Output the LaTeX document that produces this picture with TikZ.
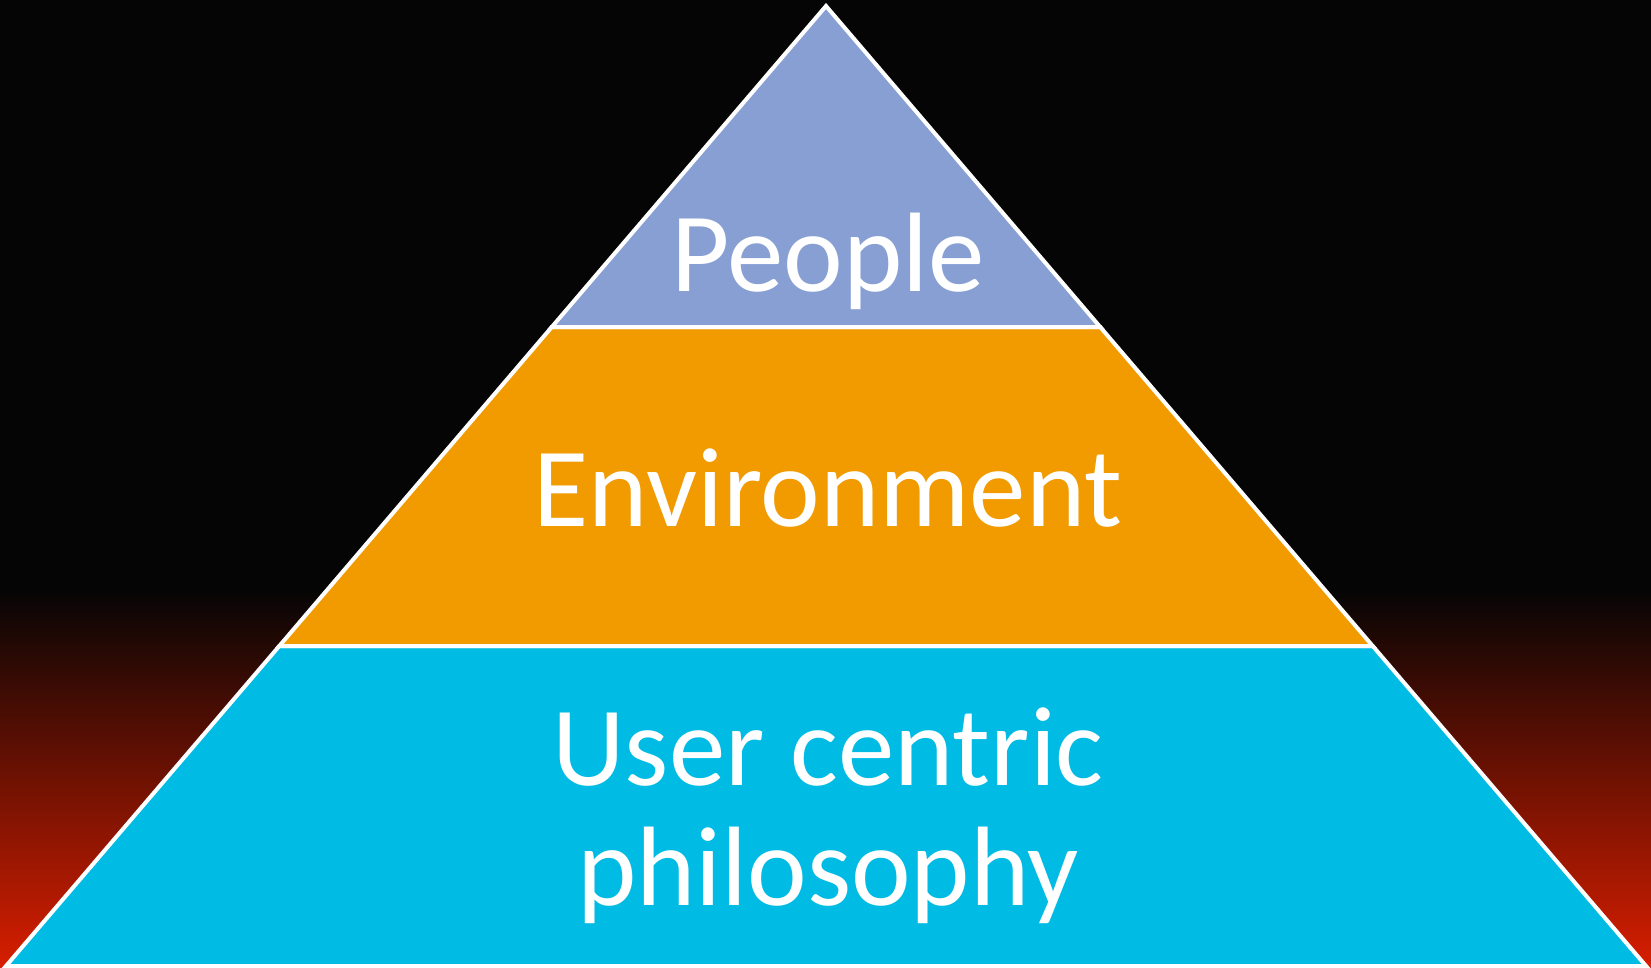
\documentclass[tikz,border=0pt]{standalone}
\usepackage{fontspec}
\setmainfont{Carlito}
\definecolor{toplvl}{HTML}{889FD4}
\definecolor{midlvl}{HTML}{F19B00}
\definecolor{botlvl}{HTML}{00BBE3}
\definecolor{bgred}{HTML}{D81E00}
\definecolor{bgdark}{HTML}{050505}
\begin{document}
\begin{tikzpicture}[x=1pt,y=-1pt,
  level/.style={draw=white,line width=4pt,line join=miter},
  lbl/.style={text=white,anchor=base,inner sep=0pt,font=\fontsize{113}{120}\selectfont,align=center}]
\useasboundingbox (0,0) rectangle (1651,968);
\fill[bgdark] (0,0) rectangle (1651,592);
\shade[top color=bgdark,bottom color=bgred] (0,590) rectangle (1651,968);
% pyramid geometry: apex (826,6), base y=966, half-width 820
\coordinate (apex) at (826,6);
\coordinate (l1) at (551.8,327);
\coordinate (r1) at (1100.2,327);
\coordinate (l2) at (279.3,646);
\coordinate (r2) at (1372.7,646);
\coordinate (l3) at (6,966);
\coordinate (r3) at (1646,966);
\draw[level,fill=botlvl] (l2) -- (r2) -- (r3) -- (l3) -- cycle;
\draw[level,fill=midlvl] (l1) -- (r1) -- (r2) -- (l2) -- cycle;
\draw[level,fill=toplvl] (apex) -- (r1) -- (l1) -- cycle;
\node[lbl] (people) at (828,291) {People};
\node[lbl] (env) at (828,526) {Environment};
\node[lbl] (user) at (828,785) {User centric};
\node[lbl] (philo) at (828,905) {philosophy};
\end{tikzpicture}
\end{document}
